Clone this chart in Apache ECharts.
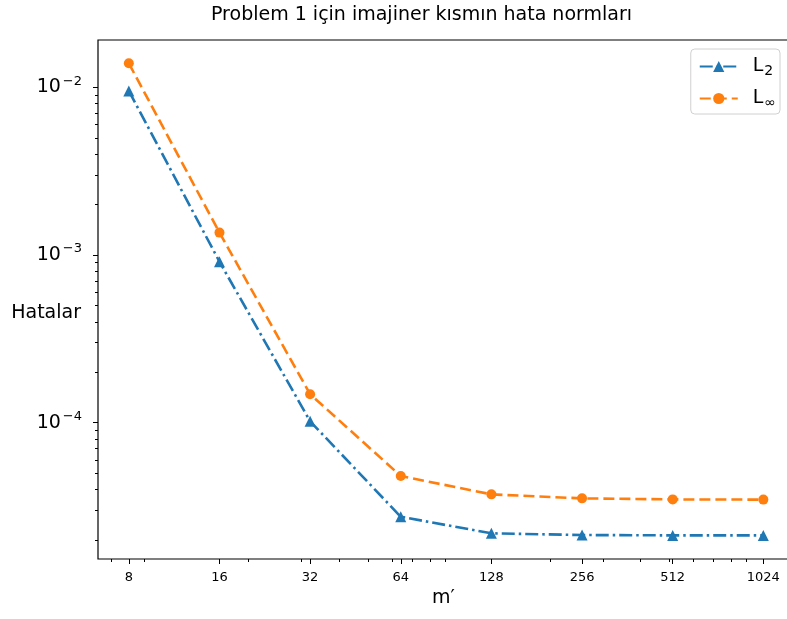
<!DOCTYPE html>
<html>
<head>
<meta charset="utf-8">
<script src="https://cdn.jsdelivr.net/npm/echarts@6/dist/echarts.min.js"></script>
<style>
  html, body { margin: 0; padding: 0; background: #fff; }
  #chart { width: 787px; height: 619px; }
</style>
</head>
<body>
<div id="chart"></div>
<script>
// values
const mValues = [8, 16, 32, 64, 128, 256, 512, 1024];
const l2Errors = [9.51e-3, 9.12e-4, 1.02e-4, 2.75e-5, 2.19e-5, 2.14e-5, 2.13e-5, 2.13e-5];
const lInfErrors = [1.39e-2, 1.36e-3, 1.48e-4, 4.81e-5, 3.74e-5, 3.54e-5, 3.49e-5, 3.48e-5];

// tick positions
const xMajorTicks = [8, 16, 32, 64, 128, 256, 512, 1024];
const xMinorTicks = [7, 9, 20, 30, 40, 50, 60, 70, 80, 90, 200, 300, 400, 500, 600, 700, 800, 900];
const yMajorTicks = [1e-4, 1e-3, 1e-2];
const yMinorTicks = [
    2e-5, 3e-5, 4e-5, 5e-5, 6e-5, 7e-5, 8e-5, 9e-5,
    2e-4, 3e-4, 4e-4, 5e-4, 6e-4, 7e-4, 8e-4, 9e-4,
    2e-3, 3e-3, 4e-3, 5e-3, 6e-3, 7e-3, 8e-3, 9e-3
];

const xMin = 6.32, xMax = 1246;
const yMin = 1.54e-5, yMax = 0.01914;

const font = 'DejaVu Sans, sans-serif';

const toPairs = function (xs, ys) {
    return xs.map((x, i) => [x, ys[i]]);
};

const chart = echarts.init(document.getElementById('chart'), null, { renderer: 'canvas' });

chart.setOption({
    animation: false,
    textStyle: { fontFamily: font, color: '#000' },

    title: {
        text: 'Problem 1 için imajiner kısmın hata normları',
        left: 206,
        top: 1,
        textStyle: { fontFamily: font, fontSize: 19, fontWeight: 'normal', color: '#000' }
    },

    grid: {
        left: 98,
        right: -2,
        top: 40,
        bottom: 60,
        outerBoundsMode: 'none',
        containLabel: false,
        show: true,
        borderColor: '#000',
        borderWidth: 1.2,
        backgroundColor: 'transparent'
    },

    legend: {
        orient: 'vertical',
        right: 7,
        top: 49,
        itemWidth: 38,
        itemHeight: 14,
        itemGap: 9,
        padding: [6, 4, 4, 8],
        borderColor: '#d0d0d0',
        borderWidth: 1,
        borderRadius: 4,
        backgroundColor: 'rgba(255,255,255,0.8)',
        data: ['L2', 'L∞'],
        formatter: function (name) {
            return name === 'L2' ? '{m|L}{s|2}' : '{m|L}{s|∞}';
        },
        textStyle: {
            fontFamily: font,
            color: '#000',
            rich: {
                m: { fontSize: 19, fontFamily: font, color: '#000', lineHeight: 26, padding: [0, 0, 0, 10] },
                s: { fontSize: 14, fontFamily: font, color: '#000', padding: [9, 0, 0, 1], lineHeight: 26 }
            }
        }
    },

    xAxis: [{
        type: 'log',
        logBase: 2,
        min: xMin,
        max: xMax,
        name: 'm′',
        nameLocation: 'middle',
        nameGap: 30,
        nameMoveOverlap: false,
        nameTextStyle: { fontFamily: font, fontSize: 19, color: '#000' },
        axisLine: { show: false },
        splitLine: { show: false },
        axisTick: {
            show: true,
            length: 5,
            lineStyle: { color: '#000', width: 1 },
            customValues: xMajorTicks
        },
        axisLabel: {
            margin: 12,
            fontFamily: font,
            fontSize: 13,
            color: '#000',
            customValues: xMajorTicks,
            formatter: function (v) { return String(Math.round(v)); }
        }
    }, {
        // minor ticks only
        type: 'log',
        logBase: 10,
        min: xMin,
        max: xMax,
        position: 'bottom',
        offset: 0,
        axisLine: { show: false },
        splitLine: { show: false },
        axisLabel: { show: false },
        axisTick: {
            show: true,
            length: 3,
            lineStyle: { color: '#000', width: 1 },
            customValues: xMinorTicks
        }
    }],

    yAxis: [{
        type: 'log',
        logBase: 10,
        min: yMin,
        max: yMax,
        name: 'Hatalar',
        nameLocation: 'middle',
        nameRotate: 0,
        nameGap: 17,
        nameMoveOverlap: false,
        nameTextStyle: { fontFamily: font, fontSize: 19, color: '#000', verticalAlign: 'top', lineHeight: 27 },
        axisLine: { show: false },
        splitLine: { show: false },
        axisTick: {
            show: true,
            length: 5,
            lineStyle: { color: '#000', width: 1 },
            customValues: yMajorTicks
        },
        axisLabel: {
            margin: 16,
            customValues: yMajorTicks,
            formatter: function (v) {
                const n = Math.round(Math.log10(v));
                return '{b|10}{e|' + (n < 0 ? '−' : '') + Math.abs(n) + '}';
            },
            rich: {
                b: { fontFamily: font, fontSize: 19, color: '#000', lineHeight: 22 },
                e: { fontFamily: font, fontSize: 13, color: '#000', padding: [0, 0, 12, 2], lineHeight: 22 }
            }
        }
    }, {
        // minor ticks only
        type: 'log',
        logBase: 10,
        min: yMin,
        max: yMax,
        position: 'left',
        offset: 0,
        axisLine: { show: false },
        splitLine: { show: false },
        axisLabel: { show: false },
        axisTick: {
            show: true,
            length: 3,
            lineStyle: { color: '#000', width: 1 },
            customValues: yMinorTicks
        }
    }],

    series: [{
        name: 'L2',
        type: 'line',
        xAxisIndex: 0,
        yAxisIndex: 0,
        data: toPairs(mValues, l2Errors),
        symbol: 'triangle',
        symbolSize: 11,
        showAllSymbol: true,
        itemStyle: { color: '#1f77b4' },
        lineStyle: { color: '#1f77b4', width: 2.6, type: [13, 4, 2.5, 4] },
        emphasis: { disabled: true }
    }, {
        name: 'L∞',
        type: 'line',
        xAxisIndex: 0,
        yAxisIndex: 0,
        data: toPairs(mValues, lInfErrors),
        symbol: 'circle',
        symbolSize: 10,
        showAllSymbol: true,
        itemStyle: { color: '#ff7f0e' },
        lineStyle: { color: '#ff7f0e', width: 2.6, type: [11, 5] },
        emphasis: { disabled: true }
    }]
});
</script>
</body>
</html>
